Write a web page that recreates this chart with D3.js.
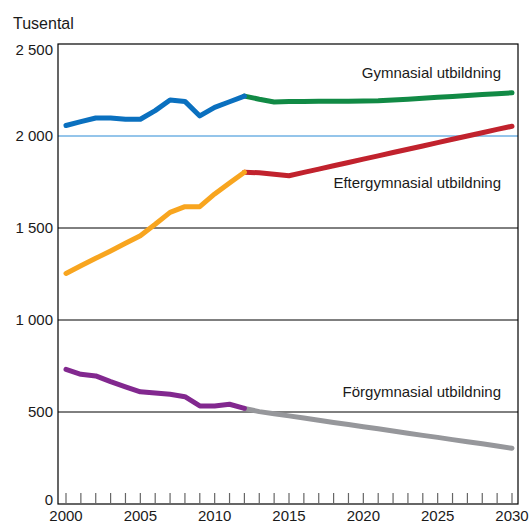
<!DOCTYPE html>
<html>
<head>
<meta charset="utf-8">
<script src="https://cdn.jsdelivr.net/npm/d3@7"></script>
<style>
  body { margin: 0; background: #fff; }
  text { font-family: "Liberation Sans", Arial, sans-serif; fill: #1a1a1a; }
</style>
</head>
<body>
<div id="chart"></div>
<script>
// Data (tusental)
const histYears = d3.range(2000, 2013);
const projYears = d3.range(2012, 2031);

const gymHist = [2057, 2078, 2098, 2098, 2091, 2091, 2138, 2196, 2188, 2109, 2156, 2186, 2217];
const gymProj = [2217, 2200, 2185, 2187, 2188, 2189, 2189, 2189, 2190, 2192, 2196, 2200, 2205, 2210, 2215, 2220, 2225, 2230, 2235];

const eftHist = [1253, 1295, 1335, 1375, 1417, 1458, 1520, 1585, 1616, 1616, 1685, 1745, 1803];
const eftProj = [1803, 1800, 1792, 1784, 1802, 1820, 1838, 1856, 1874, 1892, 1910, 1928, 1946, 1964, 1982, 2000, 2018, 2036, 2053];

const forHist = [732, 705, 696, 665, 637, 610, 603, 596, 583, 533, 533, 542, 520];
const forProj = [520, 502, 490, 479, 467, 455, 443, 432, 420, 409, 397, 385, 373, 362, 350, 338, 327, 315, 303];

const yTicks = [0, 500, 1000, 1500, 2000, 2500];
const xTickLabels = [2000, 2005, 2010, 2015, 2020, 2025, 2030];
const seriesLabels = [
  { text: "Gymnasial utbildning", value: 2315 },
  { text: "Eftergymnasial utbildning", value: 1717 },
  { text: "Förgymnasial utbildning", value: 582 }
];

const W = 532, H = 524;
const frame = { left: 58, right: 518, top: 44, bottom: 504 };

const svg = d3.select("#chart").append("svg")
  .attr("width", W)
  .attr("height", H);

const x = d3.scaleLinear().domain([2000, 2030]).range([66, 512]);
const y = d3.scaleLinear().domain([0, 2500]).range([frame.bottom, frame.top]);

// gridlines
svg.append("g").selectAll("line")
  .data(yTicks.filter(d => d > 0 && d < 2500))
  .join("line")
  .attr("x1", frame.left).attr("x2", frame.right)
  .attr("y1", d => y(d)).attr("y2", d => y(d))
  .attr("stroke", d => d === 2000 ? "#2b8bd6" : "#000")
  .attr("stroke-width", 1);

// frame
svg.append("rect")
  .attr("x", frame.left).attr("y", frame.top)
  .attr("width", frame.right - frame.left)
  .attr("height", frame.bottom - frame.top)
  .attr("fill", "none")
  .attr("stroke", "#000")
  .attr("stroke-width", 1.2);

// year ticks
svg.append("g").selectAll("line")
  .data(d3.range(2000, 2031))
  .join("line")
  .attr("x1", d => x(d)).attr("x2", d => x(d))
  .attr("y1", frame.bottom).attr("y2", frame.bottom - 11)
  .attr("stroke", "#666")
  .attr("stroke-width", 1.2);

// y labels
const fmt = d => d >= 1000 ? d3.format(",")(d).replace(",", " ") : String(d);
svg.append("g").selectAll("text")
  .data(yTicks)
  .join("text")
  .attr("x", 53)
  .attr("y", d => y(d))
  .attr("dy", d => d === 2500 ? "0.7em" : d === 0 ? "0.05em" : "0.35em")
  .attr("text-anchor", "end")
  .style("font-size", "15px")
  .text(fmt);

// x labels
svg.append("g").selectAll("text")
  .data(xTickLabels)
  .join("text")
  .attr("x", d => x(d))
  .attr("y", 521)
  .attr("text-anchor", "middle")
  .style("font-size", "15px")
  .text(d => d);

svg.append("text")
  .attr("x", 13).attr("y", 29)
  .style("font-size", "16px")
  .text("Tusental");

// lines
const line = d3.line()
  .x(d => x(d[0]))
  .y(d => y(d[1]));

const series = [
  { years: projYears, vals: gymProj, color: "#118a45" },
  { years: histYears, vals: gymHist, color: "#0a70bf" },
  { years: projYears, vals: eftProj, color: "#c1222d" },
  { years: histYears, vals: eftHist, color: "#f8a51f" },
  { years: projYears, vals: forProj, color: "#96979b" },
  { years: histYears, vals: forHist, color: "#82288f" }
];

svg.append("g").selectAll("path")
  .data(series)
  .join("path")
  .attr("d", s => line(s.years.map((yr, i) => [yr, s.vals[i]])))
  .attr("fill", "none")
  .attr("stroke", s => s.color)
  .attr("stroke-width", 5)
  .attr("stroke-linecap", "round")
  .attr("stroke-linejoin", "round");

// series labels
svg.append("g").selectAll("text")
  .data(seriesLabels)
  .join("text")
  .attr("x", 501)
  .attr("y", d => y(d.value))
  .attr("text-anchor", "end")
  .style("font-size", "15px")
  .text(d => d.text);
</script>
</body>
</html>
